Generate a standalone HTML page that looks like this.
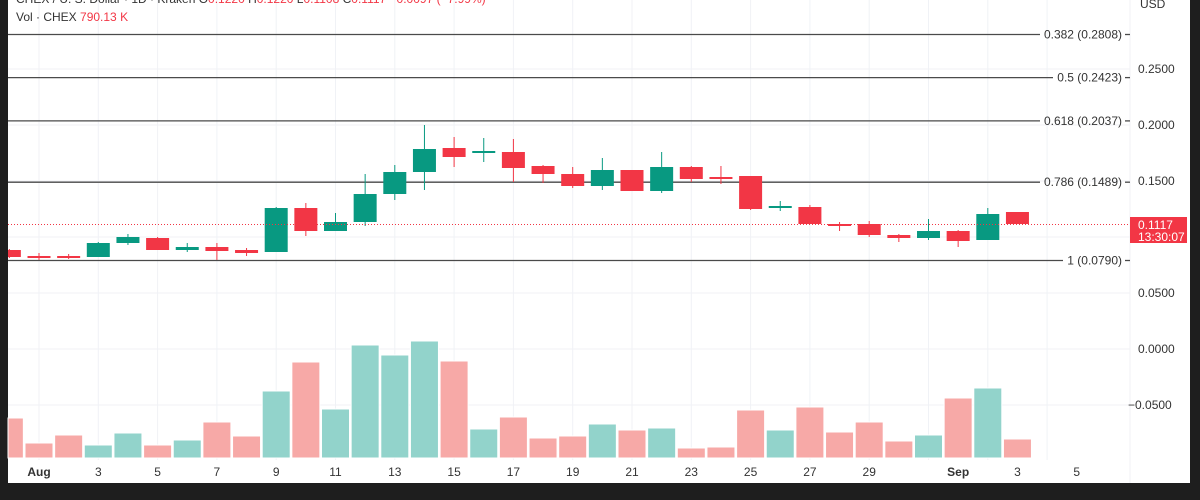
<!DOCTYPE html>
<html><head><meta charset="utf-8"><style>
html,body{margin:0;padding:0;background:#1e1e1e;}
svg{display:block;font-family:"Liberation Sans",sans-serif;}
</style></head><body>
<svg width="1200" height="500" xmlns="http://www.w3.org/2000/svg">
<rect x="0" y="0" width="1200" height="500" fill="#1e1e1e"/>
<rect x="8" y="0" width="1182" height="483" fill="#ffffff"/>
<g id="grid" stroke="#f0f2f6" stroke-width="1"></g>
<g id="fib" stroke="#4a4a4a" stroke-width="1.3" font-size="12" fill="#333"></g>
<g id="vol"></g>
<g id="candles"></g>
<line x1="8" y1="224.5" x2="1130" y2="224.5" stroke="#f23645" stroke-width="1" stroke-dasharray="1,2"/>
<g font-size="12" fill="#333">
<text x="1138" y="73">0.2500</text>
<text x="1138" y="129">0.2000</text>
<text x="1138" y="185">0.1500</text>
<text x="1138" y="297">0.0500</text>
<text x="1138" y="353">0.0000</text>
<text x="1128" y="409">−0.0500</text>
<text x="1140" y="8">USD</text>
</g>
<rect x="1130" y="217" width="57" height="26" fill="#f23645"/>
<text x="1138" y="229" font-size="12" fill="#fff">0.1117</text>
<text x="1138" y="241" font-size="12" fill="#fff">13:30:07</text>
<text x="16" y="3" font-size="12" fill="#333">CHEX / U. S. Dollar · 1D · Kraken  O<tspan fill="#f23645">0.1220</tspan>  H<tspan fill="#f23645">0.1220</tspan>  L<tspan fill="#f23645">0.1108</tspan>  C<tspan fill="#f23645">0.1117  −0.0097 (−7.99%)</tspan></text>
<text x="16" y="21" font-size="12" fill="#333">Vol · CHEX  <tspan fill="#f23645">790.13 K</tspan></text>
<g id="xl" font-size="12" fill="#333"></g>
</svg>
<script>
const NS="http://www.w3.org/2000/svg";
function el(p,t,a,txt){const e=document.createElementNS(NS,t);for(const k in a)e.setAttribute(k,a[k]);if(txt!=null)e.textContent=txt;document.getElementById(p).appendChild(e);}
const X=d=>39+29.65*(d-1);
// grid
for(let d=1;d<=36;d+=2){el('grid','line',{x1:X(d),y1:0,x2:X(d),y2:460});}
[69,125,181,237,293,349,405].forEach(y=>el('grid','line',{x1:8,y1:y,x2:1130,y2:y}));
el('grid','line',{x1:1130,y1:0,x2:1130,y2:483});
// x labels
const labs=[[1,'Aug'],[3,'3'],[5,'5'],[7,'7'],[9,'9'],[11,'11'],[13,'13'],[15,'15'],[17,'17'],[19,'19'],[21,'21'],[23,'23'],[25,'25'],[27,'27'],[29,'29'],[32,'Sep'],[34,'3'],[36,'5']];
labs.forEach(([d,t])=>el('xl','text',{x:X(d),y:476,'text-anchor':'middle','font-weight':(t=='Aug'||t=='Sep')?'bold':'normal'},t));
// fib
[[34.5,'0.382 (0.2808)',1040],[77.6,'0.5 (0.2423)',1053],[120.9,'0.618 (0.2037)',1040],[182.2,'0.786 (0.1489)',1040],[260.5,'1 (0.0790)',1063]].forEach(([y,t,e])=>{
el('fib','line',{x1:8,y1:y,x2:e,y2:y});el('fib','line',{x1:1125,y1:y,x2:1130,y2:y});
el('fib','text',{x:1122,y:y+4,'text-anchor':'end',stroke:'none'},t);});
// volume [day, top, green]
const V=[[0,418,0],[1,443,0],[2,435,0],[3,445,1],[4,433,1],[5,445,0],[6,440,1],[7,422,0],[8,436,0],[9,391,1],[10,362,0],[11,409,1],[12,345,1],[13,355,1],[14,341,1],[15,361,0],[16,429,1],[17,417,0],[18,438,0],[19,436,0],[20,424,1],[21,430,0],[22,428,1],[23,448,0],[24,447,0],[25,410,0],[26,430,1],[27,407,0],[28,432,0],[29,422,0],[30,441,0],[31,435,1],[32,398,0],[33,388,1],[34,439,0]];
V.forEach(([d,t,g])=>{let x=X(d)-14;let w=28;if(x<8){w-=8-x;x=8;}el('vol','rect',{x:x,y:t,width:w,height:458-t,fill:g?'#92d3cb':'#f7a9a7',stroke:'#fff','stroke-width':1});});
// candles [day, bodyTop, bodyBot, wickTop, wickBot, green]
const C=[[0,250,257,249,258,0],[1,256,258,253,260,0],[2,256,258,254,259,0],[3,243,257,242,257,1],[4,237,243,234,245,1],[5,238,250,237,250,0],[6,247,250,243,252,1],[7,247,251,243,260,0],[8,250,253,248,256,0],[9,208,252,207,252,1],[10,208,231,203,236,0],[11,222,231,213,231,1],[12,194,222,174,226,1],[13,172,194,165,200,1],[14,149,172,125,190,1],[15,148,157,137,167,0],[16,151,153,138,162,1],[17,152,168,139,182,0],[18,166,174,165,183,0],[19,174,186,167,188,0],[20,170,186,158,190,1],[21,170,191,170,191,0],[22,167,191,152,193,1],[23,167,179,166,182,0],[24,177,179,166,184,0],[25,176,209,176,210,0],[26,206,208,201,211,1],[27,207,224,205,224,0],[28,224,226,222,231,0],[29,224,235,221,237,0],[30,235,238,234,242,0],[31,231,238,219,240,1],[32,231,241,230,247,0],[33,214,240,208,240,1],[34,212,224,212,224,0]];
C.forEach(([d,bt,bb,wt,wb,g])=>{const c=g?'#089981':'#f23645';const x=X(d);
el('candles','line',{x1:x,y1:wt,x2:x,y2:wb,stroke:c,'stroke-width':1});
let bx=x-11.5,w=23;if(bx<8){w-=8-bx;bx=8;}
el('candles','rect',{x:bx,y:bt,width:w,height:Math.max(bb-bt,1.5),fill:c});});
</script>
</body></html>
